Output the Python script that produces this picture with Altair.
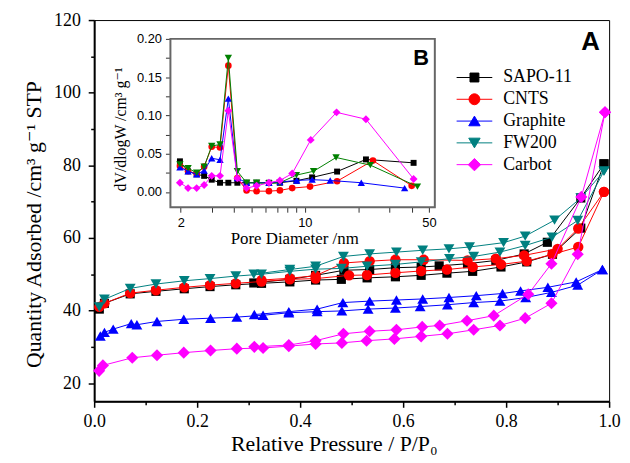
import altair as alt
import pandas as pd

# ---------------- data ----------------
SAMPLES = ["SAPO-11", "CNTS", "Graphite", "FW200", "Carbot"]
MAIN_COLORS = ["#000000", "#ff0000", "#0000ff", "#008080", "#ff00ff"]
INSET_COLORS = ["#000000", "#ff0000", "#0000ff", "#008000", "#ff00ff"]
SHAPES = ["square", "circle", "triangle-up", "triangle-down", "diamond"]

# isotherms: adsorption (p, v) and desorption (p, v)
SAPO_ADS_P = [0.01, 0.02, 0.07, 0.12, 0.175, 0.225, 0.275, 0.325, 0.38, 0.43, 0.48, 0.53, 0.585, 0.635, 0.685, 0.735, 0.79, 0.84, 0.89, 0.945, 0.99]
SAPO_ADS_V = [40.4, 42.0, 44.6, 45.3, 46.0, 46.6, 47.1, 47.5, 47.9, 48.4, 48.6, 49.0, 49.3, 49.7, 50.3, 50.8, 52.0, 53.4, 55.5, 62.7, 80.4]
SAPO_DES_P = [0.99, 0.945, 0.88, 0.835, 0.78, 0.725, 0.67, 0.635, 0.585, 0.535, 0.485, 0.43, 0.38, 0.31]
SAPO_DES_V = [80.4, 71.0, 58.8, 55.6, 53.8, 52.9, 52.3, 52.0, 51.8, 51.3, 51.1, 49.7, 48.6, 47.6]

CNTS_ADS_P = [0.01, 0.02, 0.07, 0.12, 0.175, 0.225, 0.275, 0.325, 0.38, 0.43, 0.495, 0.53, 0.585, 0.635, 0.685, 0.735, 0.79, 0.84, 0.89, 0.94, 0.99]
CNTS_ADS_V = [41.0, 42.0, 44.8, 45.6, 46.4, 47.0, 47.5, 48.0, 48.6, 48.8, 49.7, 49.8, 50.4, 50.9, 51.3, 52.0, 52.7, 53.6, 55.5, 57.5, 72.7]
CNTS_DES_P = [0.99, 0.94, 0.9, 0.835, 0.78, 0.725, 0.64, 0.585, 0.535, 0.485, 0.43, 0.38, 0.325]
CNTS_DES_V = [72.7, 62.6, 57.0, 55.2, 54.3, 53.8, 54.0, 54.0, 53.6, 53.1, 49.6, 48.9, 48.4]

GRAPH_ADS_P = [0.012, 0.02, 0.037, 0.072, 0.083, 0.122, 0.174, 0.226, 0.277, 0.328, 0.378, 0.433, 0.481, 0.532, 0.585, 0.633, 0.686, 0.737, 0.788, 0.838, 0.888, 0.939, 0.987]
GRAPH_ADS_V = [33.0, 34.0, 34.9, 36.4, 36.1, 37.0, 37.6, 37.9, 38.2, 38.7, 39.4, 39.7, 39.9, 40.4, 40.7, 41.1, 41.6, 42.2, 42.6, 43.6, 45.0, 47.0, 51.3]
GRAPH_DES_P = [0.987, 0.936, 0.881, 0.828, 0.793, 0.742, 0.689, 0.638, 0.587, 0.535, 0.483, 0.433, 0.378, 0.311]
GRAPH_DES_V = [51.3, 47.9, 46.4, 45.4, 44.7, 44.1, 43.6, 43.2, 42.9, 42.6, 42.2, 40.4, 39.7, 38.9]

FW_ADS_P = [0.01, 0.02, 0.07, 0.12, 0.175, 0.225, 0.275, 0.325, 0.38, 0.43, 0.48, 0.53, 0.585, 0.635, 0.69, 0.737, 0.788, 0.837, 0.889, 0.939, 0.99]
FW_ADS_V = [41.0, 43.1, 46.1, 47.3, 48.2, 48.8, 49.5, 50.0, 50.8, 51.4, 51.6, 52.2, 52.7, 53.4, 54.3, 54.9, 56.1, 57.9, 60.2, 64.8, 78.4]
FW_DES_P = [0.99, 0.945, 0.894, 0.837, 0.795, 0.729, 0.689, 0.638, 0.587, 0.535, 0.484, 0.43, 0.38, 0.31]
FW_DES_V = [78.4, 71.0, 64.9, 60.5, 58.7, 57.5, 57.0, 56.6, 56.1, 55.6, 54.9, 52.2, 51.3, 50.0]

CARB_ADS_P = [0.0096, 0.017, 0.074, 0.122, 0.174, 0.226, 0.277, 0.328, 0.378, 0.43, 0.481, 0.529, 0.583, 0.635, 0.686, 0.737, 0.788, 0.837, 0.888, 0.939, 0.992]
CARB_ADS_V = [23.4, 24.9, 27.0, 27.7, 28.4, 29.0, 29.5, 29.7, 30.2, 30.8, 31.1, 31.7, 32.2, 32.9, 33.6, 34.7, 35.9, 37.9, 42.0, 55.5, 94.6]
CARB_DES_P = [0.992, 0.946, 0.888, 0.843, 0.776, 0.724, 0.671, 0.637, 0.587, 0.535, 0.484, 0.43, 0.378, 0.311]
CARB_DES_V = [94.6, 71.3, 52.9, 44.5, 38.6, 37.2, 35.9, 35.5, 34.7, 34.3, 33.6, 31.7, 30.5, 30.0]

# pore size distributions (inset)
SAPO_PSD_D = [1.98, 2.2, 2.46, 2.71, 2.99, 3.33, 3.71, 4.17, 4.7, 5.35, 6.28, 7.24, 8.97, 11.0, 15.2, 22.1, 41.0]
SAPO_PSD_V = [0.040, 0.027, 0.023, 0.021, 0.016, 0.012, 0.012, 0.012, 0.012, 0.012, 0.012, 0.012, 0.0146, 0.019, 0.0266, 0.0425, 0.038]
CNTS_PSD_D = [1.98, 2.2, 2.46, 2.71, 2.99, 3.33, 3.71, 4.17, 4.7, 5.35, 6.28, 7.24, 8.49, 10.7, 15.2, 24.2, 40.0]
CNTS_PSD_V = [0.034, 0.027, 0.024, 0.033, 0.059, 0.058, 0.165, 0.018, 0.002, 0.001, 0.001, 0.002, 0.005, 0.007, 0.014, 0.041, 0.008]
GRAPH_PSD_D = [1.98, 2.2, 2.46, 2.71, 2.99, 3.33, 3.71, 4.17, 4.7, 5.35, 6.28, 7.24, 9.0, 11.0, 13.9, 20.8, 36.5]
GRAPH_PSD_V = [0.032, 0.027, 0.023, 0.028, 0.044, 0.042, 0.122, 0.018, 0.012, 0.012, 0.012, 0.013, 0.015, 0.016, 0.015, 0.012, 0.005]
FW_PSD_D = [1.98, 2.2, 2.46, 2.71, 2.99, 3.33, 3.71, 4.17, 4.7, 5.35, 6.28, 7.24, 8.97, 11.2, 15.0, 23.4, 43.1]
FW_PSD_V = [0.036, 0.031, 0.025, 0.033, 0.060, 0.062, 0.175, 0.027, 0.012, 0.012, 0.011, 0.012, 0.022, 0.027, 0.045, 0.035, 0.007]
CARB_PSD_D = [1.98, 2.2, 2.46, 2.71, 2.99, 3.33, 3.71, 4.17, 4.7, 5.35, 6.28, 7.24, 8.49, 10.8, 15.1, 22.1, 41.0]
CARB_PSD_V = [0.012, 0.005, 0.005, 0.009, 0.021, 0.021, 0.106, 0.018, 0.005, 0.008, 0.012, 0.015, 0.024, 0.068, 0.104, 0.095, 0.017]

ISOTHERMS = [
    (SAPO_ADS_P, SAPO_ADS_V, SAPO_DES_P, SAPO_DES_V),
    (CNTS_ADS_P, CNTS_ADS_V, CNTS_DES_P, CNTS_DES_V),
    (GRAPH_ADS_P, GRAPH_ADS_V, GRAPH_DES_P, GRAPH_DES_V),
    (FW_ADS_P, FW_ADS_V, FW_DES_P, FW_DES_V),
    (CARB_ADS_P, CARB_ADS_V, CARB_DES_P, CARB_DES_V),
]
PSDS = [
    (SAPO_PSD_D, SAPO_PSD_V),
    (CNTS_PSD_D, CNTS_PSD_V),
    (GRAPH_PSD_D, GRAPH_PSD_V),
    (FW_PSD_D, FW_PSD_V),
    (CARB_PSD_D, CARB_PSD_V),
]

# axis domains / ticks
P_DOMAIN = [0.0, 1.0]
V_DOMAIN = [15, 120]
P_TICKS = [round(i * 0.1, 1) for i in range(11)]
V_TICKS = list(range(20, 121, 10))
D_DOMAIN = [1.75, 54]
DV_DOMAIN = [-0.02, 0.2]
D_TICKS = [2, 3, 4, 5, 6, 7, 8, 9, 10, 20, 30, 40, 50]
DV_TICKS = [round(i * 0.025, 3) for i in range(9)]
PANEL_A = (0.982, 111.8)
PANEL_B = (50.0, 0.166)

# ---------------- tables ----------------
main_rows = []
for name, (ap, av, dp, dv) in zip(SAMPLES, ISOTHERMS):
    for i, (p, v) in enumerate(zip(ap, av)):
        main_rows.append({"series": name, "branch": "ads", "idx": i, "p": p, "v": v})
    for i, (p, v) in enumerate(zip(dp, dv)):
        main_rows.append({"series": name, "branch": "des", "idx": i, "p": p, "v": v})
main_df = pd.DataFrame(main_rows)

psd_rows = []
for name, (dd, vv) in zip(SAMPLES, PSDS):
    for i, (d, v) in enumerate(zip(dd, vv)):
        psd_rows.append({"series": name, "idx": i, "d": d, "dv": v})
psd_df = pd.DataFrame(psd_rows)

SERIF = "Times New Roman, Liberation Serif, DejaVu Serif, serif"
SANS = "Arial, Liberation Sans, sans-serif"

# ---------------- main axes ----------------
main_x_axis = alt.Axis(
    values=P_TICKS,
    labelExpr="abs(datum.value*5 - round(datum.value*5)) < 0.001 ? format(datum.value, '.1f') : ''",
    tickSize={"condition": {"test": "abs(datum.value*5 - round(datum.value*5)) < 0.001", "value": 6}, "value": 3.5},
    labelFlush=False, labelFont=SERIF, labelFontSize=18, labelColor="black", labelPadding=5,
    domainColor="black", domainWidth=2, tickColor="black", tickWidth=1.5,
    title="Relative Pressure / P/P\u2080", titleFont=SERIF, titleFontSize=22, titleFontWeight="normal",
    titleColor="black", titleX=242, titleY=50, titleBaseline="alphabetic", titleAlign="center",
)
main_y_axis = alt.Axis(
    values=V_TICKS,
    labelExpr="datum.value % 20 == 0 ? datum.label : ''",
    tickSize={"condition": {"test": "datum.value % 20 == 0", "value": 6}, "value": 3.5},
    labelFont=SERIF, labelFontSize=18, labelColor="black", labelPadding=8,
    domainColor="black", domainWidth=2, tickColor="black", tickWidth=1.5,
    title="Quantity Adsorbed /cm\u00b3 g\u207b\u00b9 STP", titleFont=SERIF, titleFontSize=22,
    titleFontWeight="normal", titleColor="black", titleX=-54, titleY=206,
    titleBaseline="alphabetic", titleAlign="center",
)
x_main_scale = alt.Scale(domain=P_DOMAIN, nice=False, zero=False)
y_main_scale = alt.Scale(domain=V_DOMAIN, nice=False, zero=False)
X_MAIN = alt.X("p:Q", scale=x_main_scale, axis=main_x_axis)
Y_MAIN = alt.Y("v:Q", scale=y_main_scale, axis=main_y_axis)

MAIN_SIZES = [85, 110, 120, 120, 150]
main_layers = []
for name, col, shp, sz in zip(SAMPLES, MAIN_COLORS, SHAPES, MAIN_SIZES):
    sub = main_df[main_df["series"] == name]
    main_layers.append(
        alt.Chart(sub).mark_line(color=col, strokeWidth=1).encode(
            x=X_MAIN, y=Y_MAIN, detail="branch:N", order="idx:Q")
    )
    main_layers.append(
        alt.Chart(sub).mark_point(shape=shp, filled=True, size=sz, color=col, opacity=1).encode(
            x=X_MAIN, y=Y_MAIN)
    )

# legend (line-through-marker symbols)
LEGEND_PATHS = [
    "M-3.6,0H3.6M-0.9,-0.9H0.9V0.9H-0.9Z",
    "M-3.6,0H3.6M1.1,0A1.1,1.1,0,1,1,-1.1,0A1.1,1.1,0,1,1,1.1,0Z",
    "M-3.6,0H3.6M0,-1.0L1.15,0.95L-1.15,0.95Z",
    "M-3.6,0H3.6M0,1.0L1.15,-0.95L-1.15,-0.95Z",
    "M-3.6,0H3.6M0,-1.25L1.25,0L0,1.25L-1.25,0Z",
]
leg = alt.Legend(
    title=None, orient="none", legendX=375, legendY=49,
    labelFont=SERIF, labelFontSize=18, labelColor="black", labelOffset=20,
    symbolSize=100, rowPadding=4, symbolStrokeWidth=1, symbolOpacity=1,
)
legend_layer = alt.Chart(main_df).transform_filter("false").mark_point(
    filled=True, size=100, opacity=1, strokeWidth=1
).encode(
    x=X_MAIN, y=Y_MAIN,
    fill=alt.Fill("series:N", scale=alt.Scale(domain=SAMPLES, range=MAIN_COLORS), legend=leg),
    stroke=alt.Stroke("series:N", scale=alt.Scale(domain=SAMPLES, range=MAIN_COLORS), legend=leg),
    shape=alt.Shape("series:N", scale=alt.Scale(domain=SAMPLES, range=LEGEND_PATHS), legend=leg),
)

label_df = pd.DataFrame({"t": ["A"]})
panel_a = alt.Chart(label_df).mark_text(
    font=SANS, fontWeight="bold", fontSize=26, align="right", baseline="alphabetic", color="black"
).encode(
    x=alt.X(datum=PANEL_A[0], type="quantitative", scale=x_main_scale, axis=main_x_axis),
    y=alt.Y(datum=PANEL_A[1], type="quantitative", scale=y_main_scale, axis=main_y_axis),
    text="t:N",
)

main_group = alt.layer(*main_layers, legend_layer, panel_a)

# ---------------- inset ----------------
x_in_scale = alt.Scale(type="log", domain=D_DOMAIN, range=[77, 344], nice=False)
y_in_scale = alt.Scale(domain=DV_DOMAIN, range=[189, 19], nice=False, zero=False)
inset_x_axis = alt.Axis(
    orient="bottom", offset=-196, values=D_TICKS, format="d",
    labelExpr="indexof([2, 10, 50], datum.value) >= 0 ? datum.label : ''",
    domain=False, tickSize=5, tickColor="#333333", tickWidth=1,
    labelFont=SANS, labelFontSize=13, labelColor="black", labelPadding=4, labelFlush=False,
    title="Pore Diameter /nm", titleFont=SERIF, titleFontSize=17, titleFontWeight="normal",
    titleColor="black", titleX=202, titleY=37, titleBaseline="alphabetic", titleAlign="center",
)
inset_y_axis = alt.Axis(
    orient="left", offset=-77, values=DV_TICKS,
    labelExpr="abs(datum.value*20 - round(datum.value*20)) < 0.001 ? format(datum.value, '.2f') : ''",
    domain=False, tickSize=5, tickColor="#333333", tickWidth=1,
    labelFont=SANS, labelFontSize=13, labelColor="black", labelPadding=4,
    title="dV/dlogW /cm\u00b3 g\u207b\u00b9", titleFont=SERIF, titleFontSize=16, titleFontWeight="normal",
    titleColor="black", titleX=-45, titleY=110, titleBaseline="alphabetic", titleAlign="center",
)
X_IN = alt.X("d:Q", scale=x_in_scale, axis=inset_x_axis)
Y_IN = alt.Y("dv:Q", scale=y_in_scale, axis=inset_y_axis)

frame = alt.Chart(label_df).mark_rect(fill="white", stroke="#666666", strokeWidth=2).encode(
    x=alt.X(datum=D_DOMAIN[0], type="quantitative", scale=x_in_scale, axis=inset_x_axis),
    x2=alt.X2(datum=D_DOMAIN[1]),
    y=alt.Y(datum=DV_DOMAIN[0], type="quantitative", scale=y_in_scale, axis=inset_y_axis),
    y2=alt.Y2(datum=DV_DOMAIN[1]),
)

INSET_SIZES = [36, 45, 55, 55, 64]
inset_layers = [frame]
for name, col, shp, sz in zip(SAMPLES, INSET_COLORS, SHAPES, INSET_SIZES):
    sub = psd_df[psd_df["series"] == name]
    inset_layers.append(
        alt.Chart(sub).mark_line(color=col, strokeWidth=1).encode(x=X_IN, y=Y_IN, order="idx:Q")
    )
    inset_layers.append(
        alt.Chart(sub).mark_point(shape=shp, filled=True, size=sz, color=col, opacity=1).encode(x=X_IN, y=Y_IN)
    )

label_b_df = pd.DataFrame({"t": ["B"]})
panel_b = alt.Chart(label_b_df).mark_text(
    font=SANS, fontWeight="bold", fontSize=22, align="right", baseline="alphabetic", color="black"
).encode(
    x=alt.X(datum=PANEL_B[0], type="quantitative", scale=x_in_scale, axis=inset_x_axis),
    y=alt.Y(datum=PANEL_B[1], type="quantitative", scale=y_in_scale, axis=inset_y_axis),
    text="t:N",
)
inset_layers.append(panel_b)
inset_group = alt.layer(*inset_layers)

chart = (
    alt.layer(main_group, inset_group)
    .resolve_scale(x="independent", y="independent")
    .properties(
        width=520, height=385,
        autosize=alt.AutoSizeParams(type="none"),
        padding={"left": 87, "top": 10, "right": 13, "bottom": 52},
        background="white",
    )
    .configure_axis(grid=False)
    .configure_view(stroke="black", strokeWidth=1)
)

chart.save("out.html", embed_options={"renderer": "svg", "actions": False})
